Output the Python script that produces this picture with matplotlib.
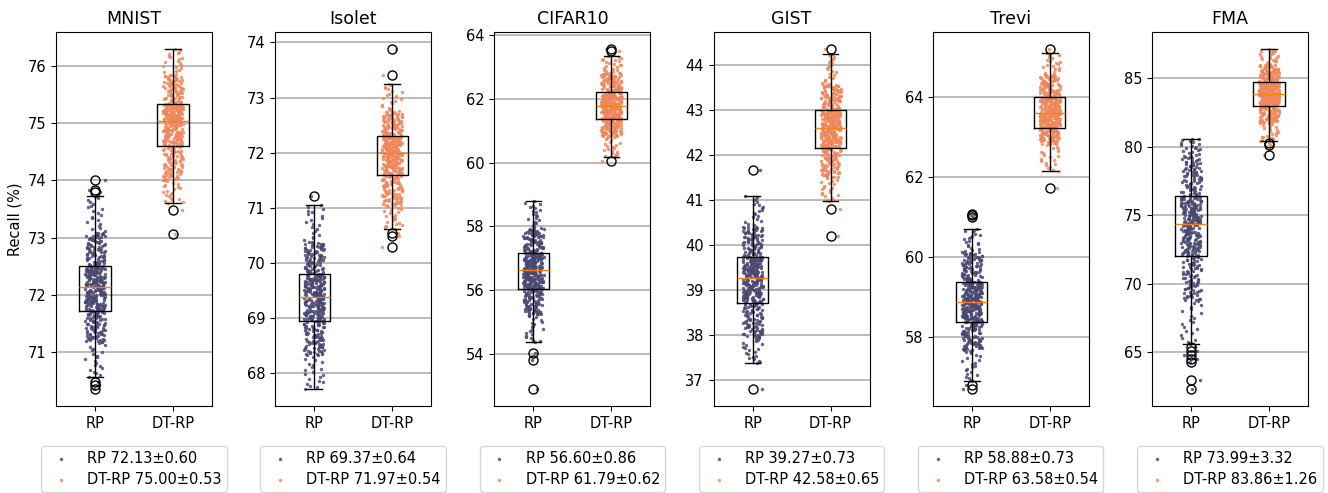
#!/usr/bin/env python3
import numpy as np
import matplotlib
matplotlib.use("Agg")
import matplotlib.pyplot as plt


datasets = ["MNIST", "Isolet", "CIFAR10", "GIST", "Trevi", "FMA"]
methods = ["RP", "DT-RP"]

# box stats: whisker low, q1, median, q3, whisker high
rp_box = [
  [70.56, 71.72, 72.13, 72.51, 73.72],
  [67.71, 68.95, 69.38, 69.79, 71.05],
  [54.36, 56.05, 56.62, 57.16, 58.78],
  [37.38, 38.73, 39.27, 39.74, 41.10],
  [56.88, 58.37, 58.87, 59.38, 60.70],
  [65.59, 72.06, 74.38, 76.40, 80.60],
]
dtrp_box = [
  [73.60, 74.61, 75.04, 75.33, 76.30],
  [70.62, 71.60, 71.99, 72.30, 73.25],
  [60.16, 61.38, 61.77, 62.20, 63.33],
  [40.98, 42.16, 42.61, 43.01, 44.24],
  [62.15, 63.23, 63.61, 64.00, 65.10],
  [80.41, 83.01, 83.88, 84.76, 87.14],
]

# rough 5th / 95th percentiles of the dots
rp_tails = [[71.17, 73.09], [68.32, 70.38], [55.22, 57.94],
            [37.95, 40.42], [57.65, 60.12], [68.72, 79.31]]
dtrp_tails = [[74.00, 75.85], [71.04, 72.75], [60.82, 62.82],
              [41.51, 43.58], [62.82, 64.56], [81.76, 86.02]]

# outliers (open circles)
rp_fliers = [
  [74.01, 73.84, 73.80, 70.47, 70.42, 70.35],
  [71.22],
  [54.03, 53.82, 52.90],
  [41.67, 36.81],
  [61.08, 61.04, 61.00, 56.79, 56.69],
  [65.40, 65.10, 64.80, 64.50, 64.30, 62.97, 62.31],
]
dtrp_fliers = [
  [73.48, 73.07],
  [73.88, 73.41, 70.54, 70.49, 70.28],
  [63.56, 63.50, 60.04],
  [44.36, 40.80, 40.21],
  [65.20, 61.72],
  [80.27, 80.13, 79.39],
]

rp_mean = [72.13, 69.37, 56.60, 39.27, 58.88, 73.99]
rp_std = [0.60, 0.64, 0.86, 0.73, 0.73, 3.32]
dtrp_mean = [75.00, 71.97, 61.79, 42.58, 63.58, 83.86]
dtrp_std = [0.53, 0.54, 0.62, 0.65, 0.54, 1.26]

n_runs = 400


def spread(box, tails, fliers, n):
  # lay the runs along the quantiles read from the box
  m = n - len(fliers)
  p = np.linspace(0, 1, m)
  knots = [box[0], tails[0], box[1], box[2], box[3], tails[1], box[4]]
  y = np.interp(p, [0, .05, .25, .5, .75, .95, 1], knots)
  return np.concatenate([y, fliers])


def jitter(n, seed, width=0.26):
  # deterministic scatter offsets (hash of the index), only for x placement
  k = np.arange(n) + seed * 1000.0
  u = (np.sin(k * 12.9898 + 78.233) * 43758.5453) % 1
  return (u - 0.5) * width


colors = ["#4a4872", "#f0875a"]

plt.rcParams["font.size"] = 10.5

fig = plt.figure(figsize=(13.28, 4.93), dpi=100)
fig.subplots_adjust(left=0.0422, right=0.985, top=0.935, bottom=0.1765, wspace=0.405)

for i, name in enumerate(datasets):
  ax = fig.add_subplot(1, 6, i + 1)
  boxes = [rp_box[i], dtrp_box[i]]
  tails = [rp_tails[i], dtrp_tails[i]]
  fliers = [rp_fliers[i], dtrp_fliers[i]]
  means = [rp_mean[i], dtrp_mean[i]]
  stds = [rp_std[i], dtrp_std[i]]

  for j in range(2):
    y = spread(boxes[j], tails[j], fliers[j], n_runs)
    x = (j + 1) + jitter(len(y), 2 * i + j)
    ax.scatter(x, y, s=6, color=colors[j], alpha=0.85, linewidths=0,
               zorder=1.5, label="%s %.2f±%.2f" % (methods[j], means[j], stds[j]))

  stats = []
  for j in range(2):
    b = boxes[j]
    stats.append(dict(whislo=b[0], q1=b[1], med=b[2], q3=b[3], whishi=b[4],
                      fliers=fliers[j], label=methods[j]))
  ax.bxp(stats, positions=[1, 2], widths=0.4,
         medianprops=dict(color="C1", lw=1.0),
         flierprops=dict(marker="o", markersize=6.5, markerfacecolor="none",
                         markeredgecolor="black"))

  ax.set_xlim(0.5, 2.5)
  ax.yaxis.grid(True, color="#b0b0b0", lw=1.2)
  ax.set_axisbelow(True)
  ax.set_title(name, fontsize=12.5)
  if i == 0:
    ax.set_ylabel("Recall (%)")
  ax.legend(loc="upper center", bbox_to_anchor=(0.5, -0.107), borderaxespad=0,
            scatterpoints=1, labelspacing=0.4, borderpad=0.35)

fig.savefig("out.png", dpi=100)
